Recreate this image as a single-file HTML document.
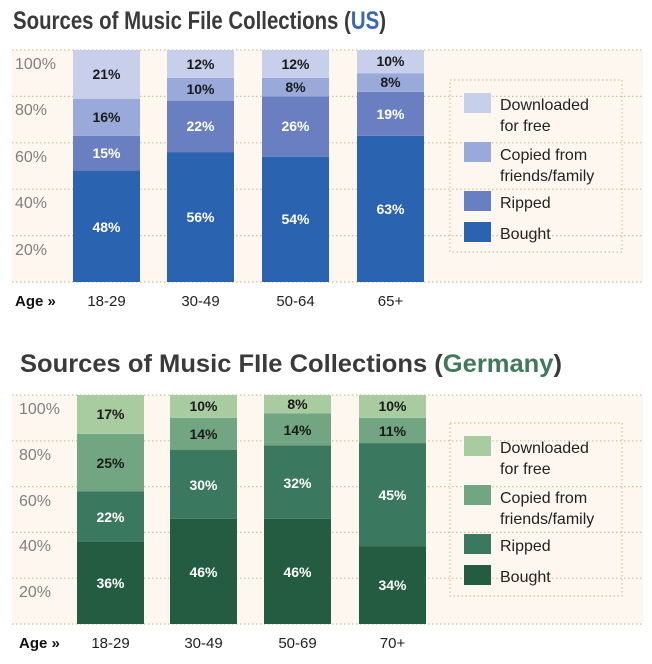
<!DOCTYPE html>
<html><head><meta charset="utf-8"><style>html,body{margin:0;padding:0;background:#fff}svg{display:block}</style></head>
<body>
<svg width="652" height="664" viewBox="0 0 652 664" xmlns="http://www.w3.org/2000/svg" font-family="Liberation Sans, sans-serif">
<!-- US -->
<text x="13" y="29" font-size="25" font-weight="bold" fill="#3a3a3a" textLength="373" lengthAdjust="spacingAndGlyphs">Sources of Music File Collections (<tspan fill="#3a68b4">US</tspan>)</text>
<rect x="12" y="50" width="631" height="232" fill="#fdf7f0"/>
<g stroke="#d8bf95" stroke-width="1.2" stroke-dasharray="1.5,2.5">
<line x1="12" x2="643" y1="50" y2="50"/><line x1="12" x2="643" y1="96.4" y2="96.4"/><line x1="12" x2="643" y1="142.8" y2="142.8"/><line x1="12" x2="643" y1="189.2" y2="189.2"/><line x1="12" x2="643" y1="235.6" y2="235.6"/><line x1="12" x2="643" y1="282" y2="282"/>
</g>
<g font-size="16" fill="#808080">
<text x="15" y="69">100%</text><text x="15" y="115">80%</text><text x="15" y="162">60%</text><text x="15" y="208">40%</text><text x="15" y="255">20%</text>
</g>
<g>
<rect x="73" y="170.6" width="67" height="111.4" fill="#2a63b0"/><rect x="73" y="135.8" width="67" height="34.8" fill="#6a7fc2"/><rect x="73" y="98.7" width="67" height="37.1" fill="#99a9d9"/><rect x="73" y="50" width="67" height="48.7" fill="#c8cfea"/>
<rect x="167" y="152.1" width="67" height="129.9" fill="#2a63b0"/><rect x="167" y="101" width="67" height="51.1" fill="#6a7fc2"/><rect x="167" y="77.8" width="67" height="23.2" fill="#99a9d9"/><rect x="167" y="50" width="67" height="27.8" fill="#c8cfea"/>
<rect x="262" y="156.7" width="67" height="125.3" fill="#2a63b0"/><rect x="262" y="96.4" width="67" height="60.3" fill="#6a7fc2"/><rect x="262" y="77.8" width="67" height="18.6" fill="#99a9d9"/><rect x="262" y="50" width="67" height="27.8" fill="#c8cfea"/>
<rect x="357" y="135.8" width="67" height="146.2" fill="#2a63b0"/><rect x="357" y="91.8" width="67" height="44" fill="#6a7fc2"/><rect x="357" y="73.2" width="67" height="18.6" fill="#99a9d9"/><rect x="357" y="50" width="67" height="23.2" fill="#c8cfea"/>
</g>
<g font-size="14" font-weight="bold" text-anchor="middle">
<text x="106.5" y="232" fill="#fff">48%</text><text x="106.5" y="158" fill="#fff">15%</text><text x="106.5" y="122" fill="#1a1a1a">16%</text><text x="106.5" y="79" fill="#1a1a1a">21%</text>
<text x="200.5" y="222" fill="#fff">56%</text><text x="200.5" y="131" fill="#fff">22%</text><text x="200.5" y="94" fill="#1a1a1a">10%</text><text x="200.5" y="69" fill="#1a1a1a">12%</text>
<text x="295.5" y="224" fill="#fff">54%</text><text x="295.5" y="131" fill="#fff">26%</text><text x="295.5" y="92" fill="#1a1a1a">8%</text><text x="295.5" y="69" fill="#1a1a1a">12%</text>
<text x="390.5" y="214" fill="#fff">63%</text><text x="390.5" y="119" fill="#fff">19%</text><text x="390.5" y="87" fill="#1a1a1a">8%</text><text x="390.5" y="66" fill="#1a1a1a">10%</text>
</g>
<rect x="450" y="80" width="172" height="172" fill="none" stroke="#d8bf95" stroke-width="1.2" stroke-dasharray="1.5,2.5"/>
<rect x="464" y="93" width="27" height="20" fill="#c8cfea"/><rect x="464" y="142" width="27" height="20" fill="#99a9d9"/><rect x="464" y="191" width="27" height="20" fill="#6a7fc2"/><rect x="464" y="222" width="27" height="20" fill="#2a63b0"/>
<g font-size="16" fill="#222">
<text x="500" y="110">Downloaded</text><text x="500" y="131">for free</text><text x="500" y="160">Copied from</text><text x="500" y="181">friends/family</text><text x="500" y="208">Ripped</text><text x="500" y="239">Bought</text>
</g>
<text x="15" y="306" font-size="15" font-weight="bold" fill="#111">Age »</text>
<g font-size="15" fill="#222" text-anchor="middle"><text x="106.5" y="306">18-29</text><text x="200.5" y="306">30-49</text><text x="295.5" y="306">50-64</text><text x="390.5" y="306">65+</text></g>

<!-- Germany -->
<text x="20" y="372" font-size="25" font-weight="bold" fill="#3a3a3a" textLength="542" lengthAdjust="spacingAndGlyphs">Sources of Music FIle Collections (<tspan fill="#3f7a5b">Germany</tspan>)</text>
<rect x="12" y="395" width="631" height="229" fill="#fdf7f0"/>
<g stroke="#d8bf95" stroke-width="1.2" stroke-dasharray="1.5,2.5">
<line x1="12" x2="643" y1="395" y2="395"/><line x1="12" x2="643" y1="440.8" y2="440.8"/><line x1="12" x2="643" y1="486.6" y2="486.6"/><line x1="12" x2="643" y1="532.4" y2="532.4"/><line x1="12" x2="643" y1="578.2" y2="578.2"/><line x1="12" x2="643" y1="624" y2="624"/>
</g>
<g font-size="16" fill="#808080">
<text x="19" y="414">100%</text><text x="19" y="460">80%</text><text x="19" y="506">60%</text><text x="19" y="551">40%</text><text x="19" y="597">20%</text>
</g>
<g>
<rect x="77" y="541.6" width="67" height="82.4" fill="#235c41"/><rect x="77" y="491.2" width="67" height="50.4" fill="#3b7860"/><rect x="77" y="433.9" width="67" height="57.3" fill="#72a682"/><rect x="77" y="395" width="67" height="38.9" fill="#a8cba0"/>
<rect x="170" y="518.7" width="67" height="105.3" fill="#235c41"/><rect x="170" y="450" width="67" height="68.7" fill="#3b7860"/><rect x="170" y="417.9" width="67" height="32.1" fill="#72a682"/><rect x="170" y="395" width="67" height="22.9" fill="#a8cba0"/>
<rect x="264" y="518.7" width="67" height="105.3" fill="#235c41"/><rect x="264" y="445.4" width="67" height="73.3" fill="#3b7860"/><rect x="264" y="413.3" width="67" height="32.1" fill="#72a682"/><rect x="264" y="395" width="67" height="18.3" fill="#a8cba0"/>
<rect x="359" y="546.1" width="67" height="77.9" fill="#235c41"/><rect x="359" y="443.1" width="67" height="103" fill="#3b7860"/><rect x="359" y="417.9" width="67" height="25.2" fill="#72a682"/><rect x="359" y="395" width="67" height="22.9" fill="#a8cba0"/>
</g>
<g font-size="14" font-weight="bold" text-anchor="middle">
<text x="110.5" y="588" fill="#fff">36%</text><text x="110.5" y="522" fill="#fff">22%</text><text x="110.5" y="468" fill="#1a1a1a">25%</text><text x="110.5" y="419" fill="#1a1a1a">17%</text>
<text x="203.5" y="577" fill="#fff">46%</text><text x="203.5" y="490" fill="#fff">30%</text><text x="203.5" y="439" fill="#1a1a1a">14%</text><text x="203.5" y="411" fill="#1a1a1a">10%</text>
<text x="297.5" y="577" fill="#fff">46%</text><text x="297.5" y="488" fill="#fff">32%</text><text x="297.5" y="435" fill="#1a1a1a">14%</text><text x="297.5" y="409" fill="#1a1a1a">8%</text>
<text x="392.5" y="590" fill="#fff">34%</text><text x="392.5" y="500" fill="#fff">45%</text><text x="392.5" y="436" fill="#1a1a1a">11%</text><text x="392.5" y="411" fill="#1a1a1a">10%</text>
</g>
<rect x="450" y="423" width="172" height="173" fill="none" stroke="#d8bf95" stroke-width="1.2" stroke-dasharray="1.5,2.5"/>
<rect x="464" y="436" width="27" height="20" fill="#a8cba0"/><rect x="464" y="485" width="27" height="20" fill="#72a682"/><rect x="464" y="534" width="27" height="20" fill="#3b7860"/><rect x="464" y="565" width="27" height="20" fill="#235c41"/>
<g font-size="16" fill="#222">
<text x="500" y="453">Downloaded</text><text x="500" y="474">for free</text><text x="500" y="503">Copied from</text><text x="500" y="524">friends/family</text><text x="500" y="551">Ripped</text><text x="500" y="582">Bought</text>
</g>
<text x="19" y="648" font-size="15" font-weight="bold" fill="#111">Age »</text>
<g font-size="15" fill="#222" text-anchor="middle"><text x="110.5" y="648">18-29</text><text x="203.5" y="648">30-49</text><text x="297.5" y="648">50-69</text><text x="392.5" y="648">70+</text></g>
</svg>
</body></html>
